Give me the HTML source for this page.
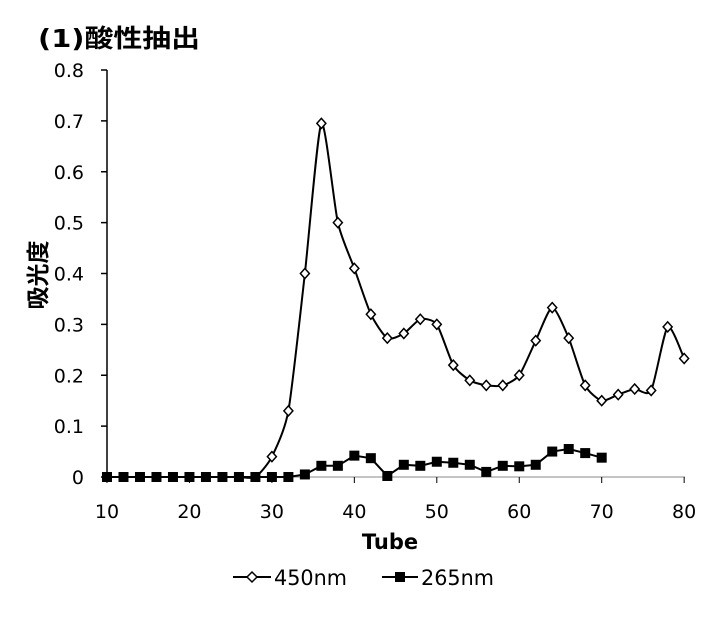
<!DOCTYPE html>
<html><head><meta charset="utf-8"><style>
body{margin:0;background:#fff}
svg text{font-family:"DejaVu Sans","Noto Sans CJK JP",sans-serif;fill:#000}
</style></head><body>
<svg id="s" width="712" height="636" xmlns="http://www.w3.org/2000/svg">
<text x="38" y="47" font-size="25" font-weight="bold" font-family="Noto Sans CJK JP" textLength="162" lengthAdjust="spacingAndGlyphs">(1)酸性抽出</text>
<text transform="translate(46,275) rotate(-90)" font-size="23" font-weight="bold" text-anchor="middle" font-family="Noto Sans CJK JP">吸光度</text>
<text x="390" y="549" font-size="21" font-weight="bold" text-anchor="middle">Tube</text>
<line x1="107" y1="70" x2="107" y2="477" stroke="#000" stroke-width="1.5"/>
<line x1="107" y1="477" x2="685" y2="477" stroke="#888" stroke-width="1"/>
<g id="ax"></g>
<g id="d"></g>
<line x1="233" y1="577" x2="271" y2="577" stroke="#000" stroke-width="2"/>
<path d="M252 572 L257 577 L252 582 L247 577Z" fill="#fff" stroke="#000" stroke-width="1.5"/>
<text x="274" y="585" font-size="21" textLength="73" lengthAdjust="spacingAndGlyphs">450nm</text>
<line x1="382" y1="577" x2="418" y2="577" stroke="#000" stroke-width="2"/>
<rect x="395" y="572" width="10" height="10" fill="#000"/>
<text x="421" y="585" font-size="21" textLength="73" lengthAdjust="spacingAndGlyphs">265nm</text>
</svg>
<script>
var X=function(t){return 107+(t-10)*8.245},Y=function(v){return 477-v*508.75};
var ax="";
for(var i=0;i<=8;i++){var y=Y(i/10);ax+='<line x1="101" y1="'+y+'" x2="107" y2="'+y+'" stroke="#000" stroke-width="1.5"/><text x="84" y="'+(y+7)+'" font-size="19" text-anchor="end">'+(i==0?"0":(i/10).toFixed(1))+'</text>';}
for(var t=10;t<=80;t+=10){var x=X(t);ax+='<line x1="'+x+'" y1="477" x2="'+x+'" y2="483" stroke="#000"/><text x="'+x+'" y="518" font-size="19" text-anchor="middle">'+t+'</text>';}
document.getElementById("ax").innerHTML=ax;
var a=[0,0,0,0,0,0,0,0,0,0,0.04,0.13,0.40,0.695,0.50,0.41,0.32,0.273,0.282,0.31,0.30,0.22,0.19,0.18,0.18,0.20,0.268,0.333,0.273,0.18,0.15,0.162,0.173,0.17,0.295,0.233];
var b=[0,0,0,0,0,0,0,0,0,0,0,0,0.005,0.022,0.022,0.042,0.037,0.002,0.024,0.022,0.03,0.028,0.024,0.01,0.022,0.021,0.024,0.05,0.055,0.047,0.038];
var pa=a.map(function(v,i){return [X(10+2*i),Y(v)]}),pb=b.map(function(v,i){return [X(10+2*i),Y(v)]});
var d="M"+pa[0];
for(var i=0;i<pa.length-1;i++){var p0=pa[Math.max(0,i-1)],p1=pa[i],p2=pa[i+1],p3=pa[Math.min(pa.length-1,i+2)],k=1/9;
d+=" C"+(p1[0]+(p2[0]-p0[0])*k)+","+(p1[1]+(p2[1]-p0[1])*k)+" "+(p2[0]-(p3[0]-p1[0])*k)+","+(p2[1]-(p3[1]-p1[1])*k)+" "+p2[0]+","+p2[1];}
var h='<path d="'+d+'" fill="none" stroke="#000" stroke-width="2"/>';
h+='<polyline points="'+pb.join(" ")+'" fill="none" stroke="#000" stroke-width="2"/>';
pb.forEach(function(p){h+='<rect x="'+(p[0]-5)+'" y="'+(p[1]-5)+'" width="10" height="10" fill="#000"/>'});
pa.forEach(function(p,i){if(i>=10)h+='<path d="M'+p[0]+' '+(p[1]-5)+' L'+(p[0]+4.5)+' '+p[1]+' L'+p[0]+' '+(p[1]+5)+' L'+(p[0]-4.5)+' '+p[1]+'Z" fill="#fff" stroke="#000" stroke-width="1.5"/>'});
document.getElementById("d").innerHTML=h;
</script>
</body></html>
